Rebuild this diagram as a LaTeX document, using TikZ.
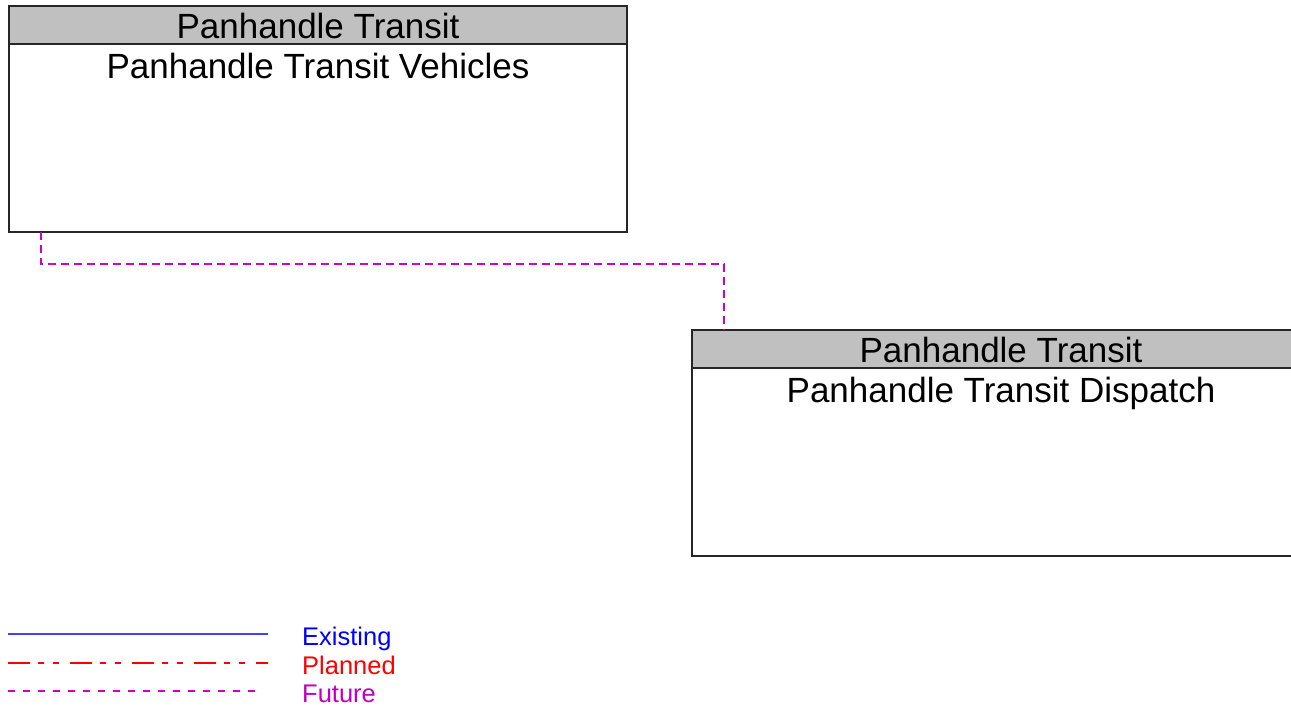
\documentclass[tikz,border=0pt]{standalone}
\usepackage{fontspec}
\setmainfont{Liberation Sans}
\definecolor{hdrgray}{RGB}{192,192,192}
\definecolor{futmag}{RGB}{204,0,204}
\definecolor{futtxt}{RGB}{192,0,192}
\definecolor{exblue}{RGB}{64,64,255}
\begin{document}
\begin{tikzpicture}[x=1pt,y=-1pt,
  boxline/.style={draw=black!85,line width=1.3pt},
  hdr/.style={boxline,fill=hdrgray},
  bigtxt/.style={font=\fontsize{35}{40}\selectfont,anchor=base,inner sep=0pt},
  legtxt/.style={font=\fontsize{25.5}{30}\selectfont,anchor=base west,inner sep=0pt},
  futureline/.style={draw=futmag,line width=1.2pt,dash pattern=on 8pt off 5pt}]
\useasboundingbox (0,0) rectangle (1291,705);
\clip (0,0) rectangle (1291,705);
\fill[white] (0,0) rectangle (1291,705);
% box 1
\draw[boxline,fill=white] (9,44) rectangle (627,232);
\draw[hdr] (9,6) rectangle (627,44);
\node[bigtxt] (h1) at (318,38) {Panhandle Transit};
\node[bigtxt] (b1) at (318,78) {Panhandle Transit Vehicles};
\coordinate (v) at (41,232);
% box 2
\draw[boxline,fill=white] (692,368) rectangle (1310,556);
\draw[hdr] (692,330) rectangle (1310,368);
\node[bigtxt] (h2) at (1001,362) {Panhandle Transit};
\node[bigtxt] (b2) at (1001,402) {Panhandle Transit Dispatch};
\coordinate (d) at (724,330);
% connector
\draw[futureline] (v) -- (41,264) -- (724,264) -- (d);
% legend
\coordinate (e1) at (8,634); \coordinate (e2) at (268,634);
\coordinate (p1) at (8,663); \coordinate (p2) at (268,663);
\coordinate (f1) at (8,691); \coordinate (f2) at (262,691);
\draw[exblue,line width=1.5pt] (e1) -- (e2);
\draw[red,line width=1.3pt,dash pattern=on 22pt off 8pt on 6pt off 9pt on 6pt off 11pt] (p1) -- (p2);
\draw[futmag,line width=1.2pt,dash pattern=on 7pt off 8pt] (f1) -- (f2);
\node[legtxt,text=blue] (le) at (302,645) {Existing};
\node[legtxt,text=red] (lp) at (302,674) {Planned};
\node[legtxt,text=futtxt] (lf) at (302,702) {Future};
\end{tikzpicture}
\end{document}
